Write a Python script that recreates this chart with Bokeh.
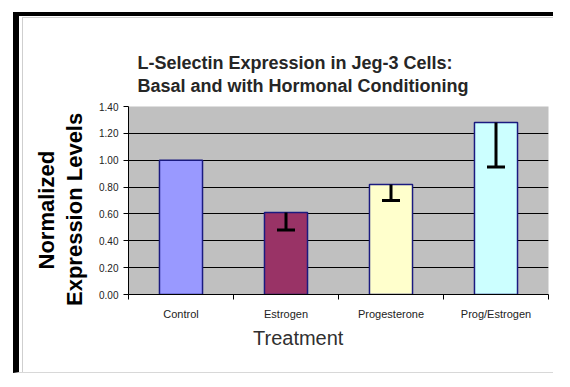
from bokeh.plotting import figure
from bokeh.models import (Range1d, FixedTicker, ColumnDataSource, Whisker, TeeHead,
                          Title, NumeralTickFormatter)
from bokeh.embed import file_html
from bokeh.resources import INLINE

# ---- data ----
categories = ["Control", "Estrogen", "Progesterone", "Prog/Estrogen"]
values = [1.00, 0.61, 0.82, 1.28]
errors_down = [0.0, 0.13, 0.12, 0.33]
bar_colors = ["#9999FF", "#993366", "#FFFFCC", "#CCFFFF"]
y_ticks = [0.0, 0.2, 0.4, 0.6, 0.8, 1.0, 1.2, 1.4]
title_lines = ["L-Selectin Expression in Jeg-3 Cells:", "Basal and with Hormonal Conditioning"]
x_title = "Treatment"
y_title_lines = ["Normalized", "Expression Levels"]

FONT = "Liberation Sans"
n = len(categories)
xs = [i + 0.5 for i in range(n)]

src = ColumnDataSource(dict(x=xs, top=values, color=bar_colors, cat=categories))
err_idx = [i for i in range(n) if errors_down[i] > 0]
err_src = ColumnDataSource(dict(
    x=[xs[i] for i in err_idx],
    upper=[values[i] for i in err_idx],
    lower=[values[i] - errors_down[i] for i in err_idx],
))

p = figure(width=540, height=361,
           x_range=Range1d(0, n), y_range=Range1d(y_ticks[0], y_ticks[-1]),
           output_backend="svg", toolbar_location=None, title=None,
           min_border_left=105, min_border_right=15, min_border_top=88, min_border_bottom=85,
           background_fill_color="#C0C0C0", border_fill_color="white",
           outline_line_color=None)
p.styles = {"margin-left": "13px", "margin-top": "12px",
            "padding-left": "4px", "padding-top": "2px",
            "border-top": "4px solid black", "border-left": "6px solid black",
            "border-bottom": "1px solid #d8d8d8",
            "box-shadow": "inset 3px 1px 0 white, inset 4px 2px 0 #cfcfcf"}

p.vbar(x="x", top="top", bottom=0, width=0.41, fill_color="color",
       line_color="#1a1a80", line_width=1.5, source=src)

p.add_layout(Whisker(base="x", upper="upper", lower="lower", source=err_src,
                     dimension="height", line_width=3, line_color="black",
                     upper_head=None,
                     lower_head=TeeHead(size=18, line_width=3, line_color="black"),
                     level="annotation"))

# grid
p.xgrid.grid_line_color = None
p.ygrid.ticker = FixedTicker(ticks=y_ticks[1:-1])
p.ygrid.grid_line_color = "black"
p.ygrid.grid_line_width = 1

# y axis
p.yaxis.ticker = FixedTicker(ticks=y_ticks)
p.yaxis.formatter = NumeralTickFormatter(format="0.00")
p.yaxis.major_tick_in = 0
p.yaxis.major_tick_out = 5
p.yaxis.minor_tick_line_color = None
p.yaxis.major_label_standoff = 5
p.yaxis.major_label_text_font = FONT
p.yaxis.major_label_text_font_size = "10px"
p.yaxis.major_label_text_color = "#222222"
p.yaxis.axis_line_color = "black"

# y axis title as two rotated lines (nearest line added first)
p.add_layout(Title(text=y_title_lines[1], align="left", offset=-11.5, standoff=20,
                   text_font=FONT, text_font_size="22px", text_font_style="bold",
                   text_color="black"), "left")
p.add_layout(Title(text=y_title_lines[0], align="left", offset=25, standoff=-18,
                   text_font=FONT, text_font_size="22px", text_font_style="bold",
                   text_color="black"), "left")

# x axis: labels at category centres, tick marks at category boundaries
p.xaxis.ticker = FixedTicker(ticks=xs, minor_ticks=list(range(n + 1)))
p.xaxis.major_label_overrides = {x: c for x, c in zip(xs, categories)}
p.xaxis.major_tick_in = 0
p.xaxis.major_tick_out = 0
p.xaxis.minor_tick_in = 0
p.xaxis.minor_tick_out = 5
p.xaxis.minor_tick_line_color = "black"
p.xaxis.major_label_standoff = 8
p.xaxis.major_label_text_font = FONT
p.xaxis.major_label_text_font_size = "11px"
p.xaxis.major_label_text_color = "#222222"
p.xaxis.axis_line_color = "black"

# titles
p.add_layout(Title(text="\n".join(title_lines), align="left", offset=9, standoff=22,
                   text_font=FONT, text_font_size="18px", text_font_style="bold",
                   text_line_height=1.15, text_color="#262626"), "above")
p.add_layout(Title(text=x_title, align="left", offset=124.5, standoff=4,
                   text_font=FONT, text_font_size="20px", text_font_style="normal",
                   text_color="#303030"), "below")

open("out.html", "w").write(file_html(p, INLINE))
